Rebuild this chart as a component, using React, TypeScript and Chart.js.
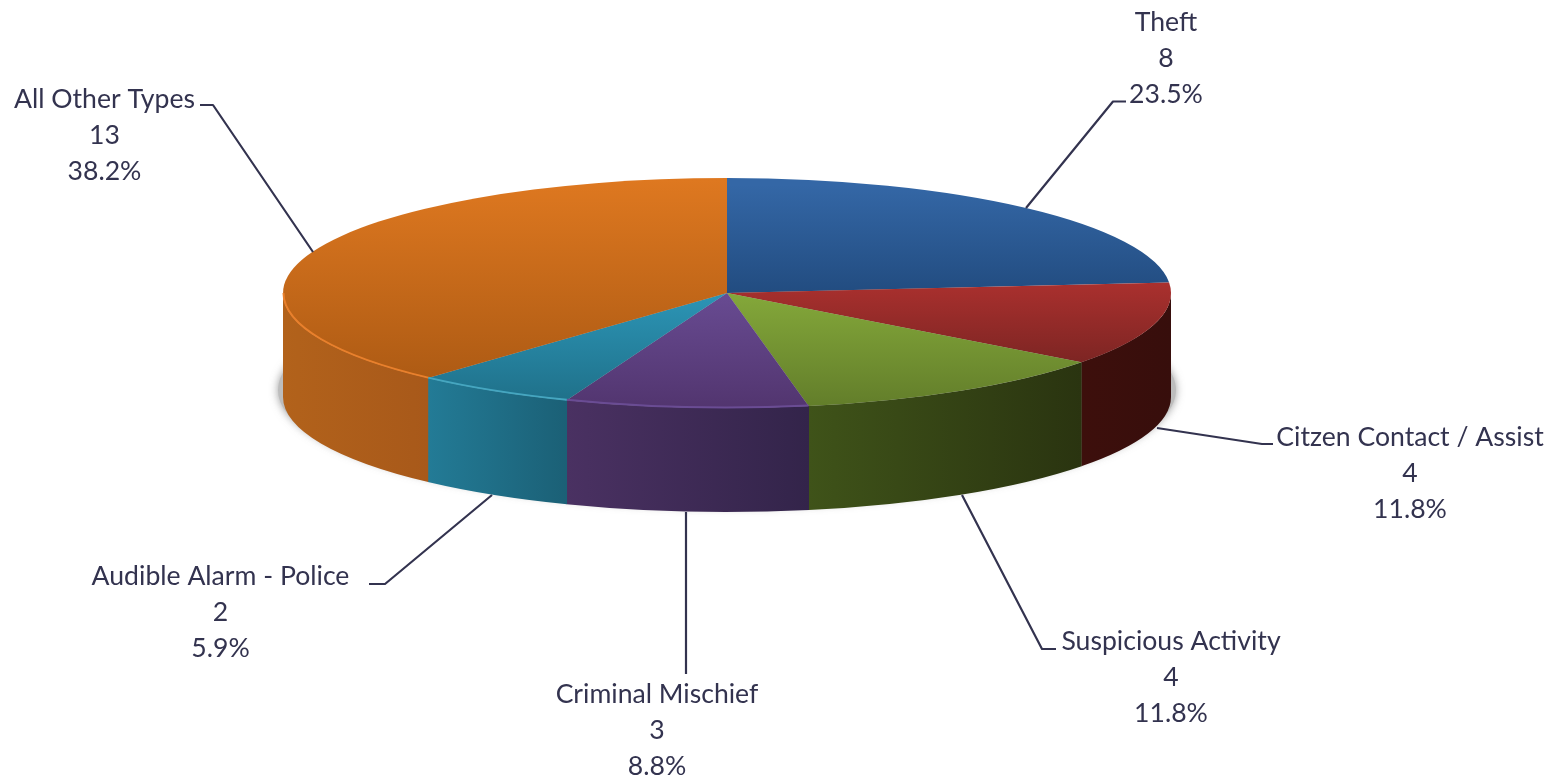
import React, { useEffect, useRef } from "react";
import { Chart, registerables } from "chart.js";

Chart.register(...registerables);

// ---- data ----
const categories = ["Theft", "Citzen Contact / Assist", "Suspicious Activity", "Criminal Mischief", "Audible Alarm - Police", "All Other Types"];
const counts = [8, 4, 4, 3, 2, 13];

// ---- styles ----
const topColors = [
  ["#3467a6", "#224c80"],
  ["#aa302e", "#7d2523"],
  ["#84a83a", "#627d2a"],
  ["#684b92", "#52356f"],
  ["#2c95b6", "#1f7089"],
  ["#de7820", "#ae5b14"],
];
const topSpans = [
  [185, 293],
  [283, 362],
  [293, 408],
  [293, 408],
  [293, 403],
  [180, 378],
];
const wallColors = [
  ["#224c80", "#224c80"],
  ["#3d0f0c", "#370e0c"],
  ["#3f5319", "#2a3410"],
  ["#4a3162", "#33244a"],
  ["#237b96", "#1b6076"],
  ["#b2621b", "#a8591a"],
];
const rimColors = [null, null, null, "#6a4c94", "#45a6c0", "#e9802c"];

const CX = 727;
const CY = 293;
const RX = 444;
const RY = 115;
const DEPTH = 104;
const INK = "#33334f";
const FONT = '26.6px Lato, "Open Sans", sans-serif';
const LINE_H = 36;

// label layout: centre x, first line middle y, leader polyline
const labelCentres = [
  [1166, 22],
  [1410, 437],
  [1171, 641],
  [657, 694],
  [220.5, 576],
  [104.5, 99],
];
const leaders = [
  [[1026, 208], [1113, 101.5], [1126, 101.5]],
  [[1157, 428], [1262, 444], [1273, 444]],
  [[962, 495], [1042, 649], [1056, 649]],
  [[686, 512], [686, 674]],
  [[492, 495], [385, 584], [369, 584]],
  [[200, 105], [213, 105], [313, 252]],
];

const pie3d = {
  id: "pie3d",
  beforeDatasetsDraw(chart: any) {
    const ctx = chart.ctx;
    const arcs = chart.getDatasetMeta(0).data;
    ctx.save();

    // soft shadow under the disc
    ctx.save();
    ctx.shadowColor = "rgba(90,90,90,0.6)";
    ctx.shadowBlur = 8;
    ctx.fillStyle = "#bdbdbd";
    ctx.beginPath();
    ctx.ellipse(CX, CY + DEPTH - 7, RX + 5, RY + 2, 0, 0, Math.PI * 2);
    ctx.fill();
    ctx.restore();

    // side walls, only on the part of each slice facing the viewer
    arcs.forEach((arc: any, i: number) => {
      const start = Math.max(arc.startAngle, 0);
      const end = Math.min(arc.endAngle, Math.PI);
      if (end <= start) return;
      const xa = CX + RX * Math.cos(start);
      const xb = CX + RX * Math.cos(end);
      const g = ctx.createLinearGradient(Math.min(xa, xb), 0, Math.max(xa, xb), 0);
      g.addColorStop(0, wallColors[i][0]);
      g.addColorStop(1, wallColors[i][1]);
      ctx.fillStyle = g;
      // a hair of overlap hides the seam between neighbouring walls
      const s2 = Math.max(start - 0.001, 0);
      ctx.beginPath();
      ctx.ellipse(CX, CY, RX, RY, 0, s2, end, false);
      ctx.ellipse(CX, CY + DEPTH, RX, RY, 0, end, s2, true);
      ctx.closePath();
      ctx.fill();
    });

    // flatten the library's circular slices into the tilted disc
    const first = arcs[0];
    const k = first.outerRadius;
    ctx.translate(CX, CY);
    ctx.scale(RX / k, RY / k);
    ctx.translate(-first.x, -first.y);
  },
  afterDatasetsDraw(chart: any) {
    const ctx = chart.ctx;
    const arcs = chart.getDatasetMeta(0).data;
    ctx.restore();

    // lit rim along the front left edge
    arcs.forEach((arc: any, i: number) => {
      const rim = rimColors[i];
      if (!rim) return;
      const s = Math.max(arc.startAngle, 0);
      const e = Math.min(arc.endAngle, Math.PI);
      if (e <= s) return;
      ctx.save();
      ctx.strokeStyle = rim;
      ctx.lineWidth = 2;
      ctx.beginPath();
      ctx.ellipse(CX, CY, RX - 0.5, RY - 0.5, 0, s, e, false);
      ctx.stroke();
      ctx.restore();
    });

    // leader lines
    ctx.save();
    ctx.strokeStyle = INK;
    ctx.lineWidth = 2.2;
    ctx.lineJoin = "round";
    leaders.forEach((pts) => {
      ctx.beginPath();
      pts.forEach((p, j) => (j === 0 ? ctx.moveTo(p[0], p[1]) : ctx.lineTo(p[0], p[1])));
      ctx.stroke();
    });
    ctx.restore();

    // data labels
    const total = counts.reduce((a, b) => a + b, 0);
    ctx.save();
    ctx.fillStyle = INK;
    ctx.font = FONT;
    ctx.textAlign = "center";
    ctx.textBaseline = "middle";
    categories.forEach((name, i) => {
      const [x, y] = labelCentres[i];
      const lines = [name, String(counts[i]), ((counts[i] / total) * 100).toFixed(1) + "%"];
      lines.forEach((t, j) => ctx.fillText(t, x, y + j * LINE_H));
    });
    ctx.restore();
  },
};

export default function App() {
  const ref = useRef<HTMLCanvasElement | null>(null);
  useEffect(() => {
    const chart = new Chart(ref.current as HTMLCanvasElement, {
      type: "pie",
      data: {
        labels: categories,
        datasets: [
          {
            data: counts,
            borderWidth: 0,
            clip: false,
            backgroundColor: (c: any) => {
              const area = c.chart.chartArea;
              if (!area) return topColors[c.dataIndex][0];
              const k = Math.min(area.right - area.left, area.bottom - area.top) / 2;
              const my = (area.top + area.bottom) / 2;
              const [a, b] = topSpans[c.dataIndex];
              const toChart = (sy: number) => my + ((sy - CY) * k) / RY;
              const g = c.chart.ctx.createLinearGradient(0, toChart(a), 0, toChart(b));
              g.addColorStop(0, topColors[c.dataIndex][0]);
              g.addColorStop(1, topColors[c.dataIndex][1]);
              return g;
            },
          } as any,
        ],
      },
      options: {
        responsive: false,
        animation: false,
        devicePixelRatio: 1,
        events: [],
        layout: { padding: 0 },
        plugins: { legend: { display: false }, tooltip: { enabled: false } },
      },
      plugins: [pie3d as any],
    });
    return () => chart.destroy();
  }, []);
  return (
    <div style={{ position: "absolute", left: 0, top: 0, width: 1560, height: 781, background: "#fff", overflow: "hidden" }}>
      <canvas ref={ref} width={1560} height={781} style={{ display: "block" }} />
    </div>
  );
}
